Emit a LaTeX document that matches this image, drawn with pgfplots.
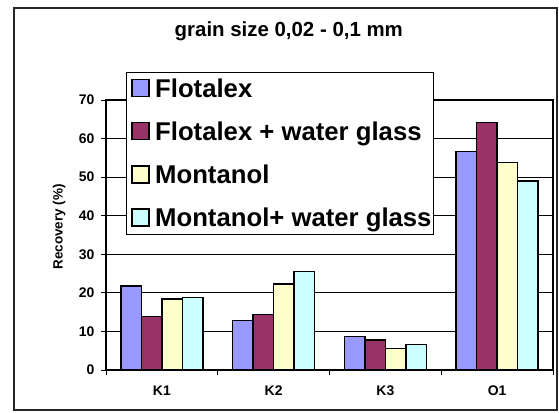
\documentclass[border=0pt]{standalone}
\usepackage{pgfplots}
\pgfplotsset{compat=1.18}
\usepackage{fontspec}
\setmainfont{Liberation Sans}
\definecolor{cFlot}{HTML}{9999FF}
\definecolor{cFlotW}{HTML}{993366}
\definecolor{cMont}{HTML}{FFFFCC}
\definecolor{cMontW}{HTML}{CCFFFF}
\begin{document}
\begin{tikzpicture}
\useasboundingbox (-106bp,-43bp) rectangle (453bp,370bp);
\draw[line width=1.2bp, black!85] (-92bp,-40bp) rectangle (451bp,362bp);
\begin{axis}[
  scale only axis,
  width=447bp, height=270bp,
  at={(0,0)}, anchor=south west,
  ybar=0pt,
  bar width=20.5bp,
  xmin=-0.5, xmax=3.5,
  ymin=0, ymax=70,
  xtick={0,1,2,3},
  xticklabels={K1,K2,K3,O1},
  minor xtick={-0.5,0.5,1.5,2.5,3.5},
  ytick={0,10,...,70},
  xtick pos=bottom, ytick pos=left,
  tick align=outside,
  major x tick style={draw=none},
  minor tick length=5bp,
  major tick length=5bp,
  tick style={black, line width=0.9bp},
  axis line style={black, line width=2bp},
  ymajorgrids,
  grid style={black, line width=0.8bp},
  /pgf/number format/assume math mode=true,
  ticklabel style={font=\fontsize{14}{16}\selectfont\bfseries},
  xticklabel style={yshift=-7bp},
  yticklabel style={xshift=-3bp},
  ylabel={Recovery (\%)},
  ylabel style={font=\fontsize{13.5}{16}\selectfont\bfseries, at={(axis description cs:-0.105,0.53)}, anchor=center},
  title={grain size 0,02 - 0,1 mm},
  title style={font=\fontsize{20.5}{24}\selectfont\bfseries, at={(axis description cs:0.409,1.233)}, anchor=center},
  legend style={at={(axis description cs:0.0447,1.103)}, anchor=north west,
    draw=black, line width=0.8bp, fill=white,
    font=\fontsize{25.8}{30}\selectfont\bfseries,
    row sep=19bp, inner xsep=0bp, inner ysep=4bp},
  legend cell align=left,
  legend image code/.code={\draw[#1,draw=black,line width=1.3bp] (5bp,-8bp) rectangle (22bp,9bp); \path (0bp,0bp) (25.5bp,0bp);},
  every axis plot/.append style={draw=black, line width=1.3bp},
]
\addplot[fill=cFlot] coordinates {(0,21.8) (1,12.8) (2,8.7) (3,56.7)};
\addplot[fill=cFlotW] coordinates {(0,13.9) (1,14.4) (2,7.8) (3,64.2)};
\addplot[fill=cMont] coordinates {(0,18.4) (1,22.3) (2,5.6) (3,53.8)};
\addplot[fill=cMontW] coordinates {(0,18.8) (1,25.6) (2,6.6) (3,49.0)};
\legend{Flotalex,Flotalex + water glass,Montanol,Montanol+ water glass}
\end{axis}
\end{tikzpicture}
\end{document}
